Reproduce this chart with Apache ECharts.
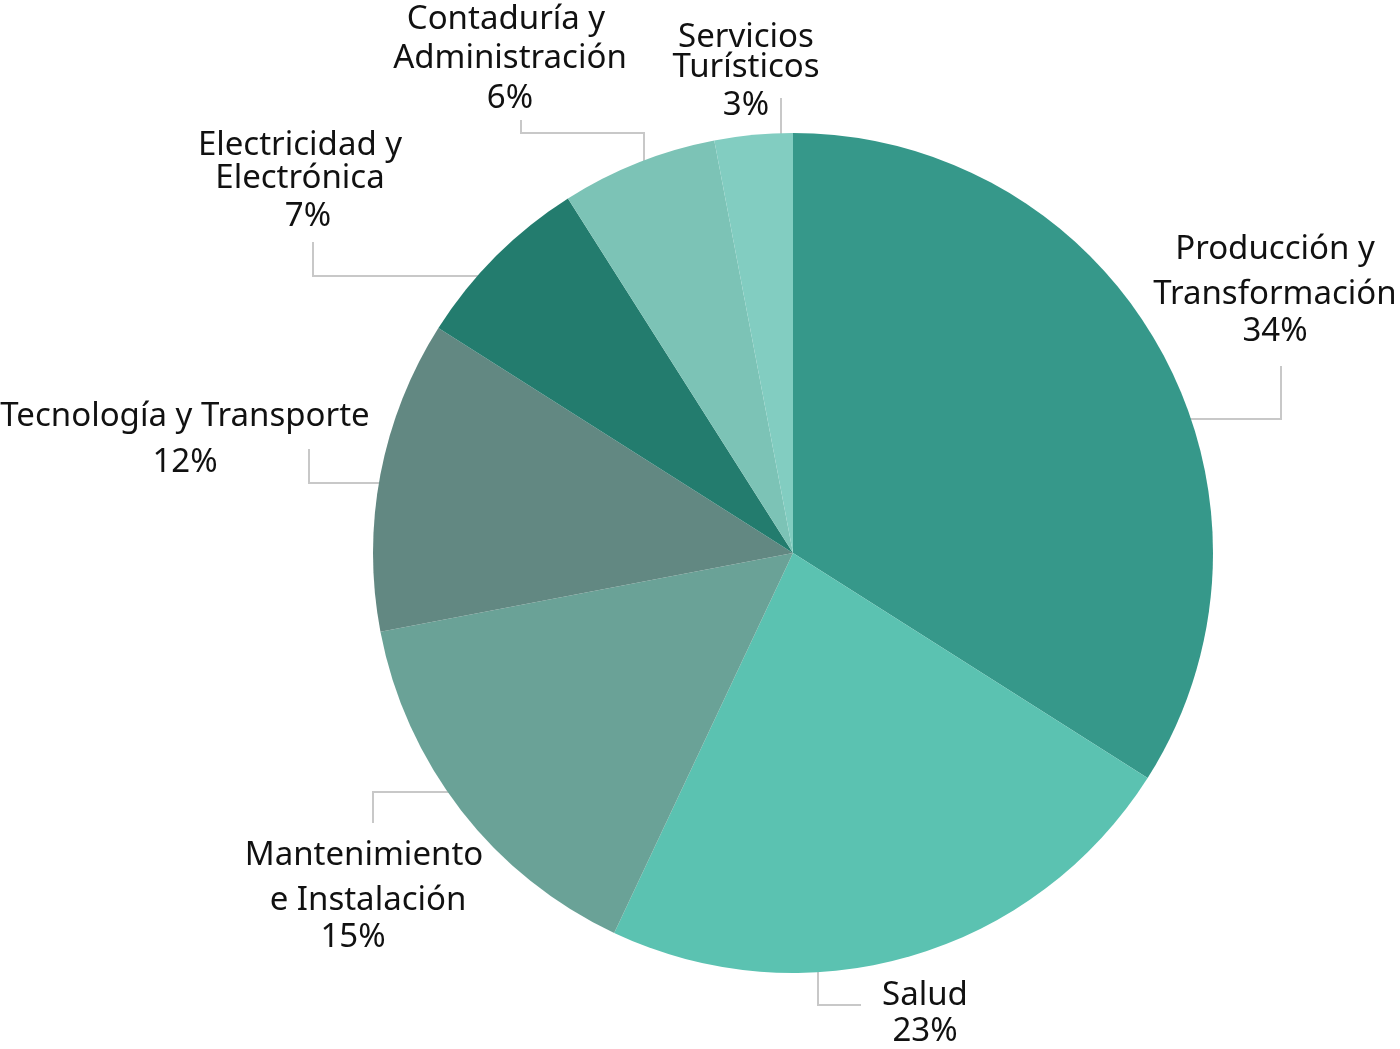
<!DOCTYPE html>
<html><head><meta charset="utf-8">
<script src="https://cdn.jsdelivr.net/npm/echarts@6/dist/echarts.min.js"></script>
<style>html,body{margin:0;padding:0;background:#fff}#c{width:1400px;height:1049px}</style>
</head><body><div id="c"></div>
<script>
// Data
const categories = ['Producción y\nTransformación', 'Salud', 'Mantenimiento\ne Instalación', 'Tecnología y Transporte', 'Electricidad y\nElectrónica', 'Contaduría y\nAdministración', 'Servicios\nTurísticos'];
const values = [34, 23, 15, 12, 7, 6, 3];
const colors = ['#36988a', '#5bc2b1', '#6aa297', '#628882', '#237c6e', '#7cc3b6', '#82cdc1'];

// Label layout (styling only)
const FS = 33;
const labelPos = [
  {x: 1275, y: 225, lh: [50, 40, 34], sh: [0, 0, 0]},
  {x: 925, y: 978, lh: [36, 36], sh: [0, 0]},
  {x: 364, y: 831, lh: [50, 40, 34], sh: [0, 4, -11]},
  {x: 185, y: 394, lh: [46, 46], sh: [0, 0]},
  {x: 300, y: 131, lh: [30, 36, 40], sh: [0, 0, 8]},
  {x: 510, y: 1, lh: [38, 40, 40], sh: [-4, 0, 0]},
  {x: 746, y: 25, lh: [26, 34, 42], sh: [0, 0, 0]}
];
const linePts = [
  [[1173,419],[1281,419],[1281,366]],
  [[818,947],[818,1005],[861,1005]],
  [[473,792],[373,792],[373,823]],
  [[398,483],[309,483],[309,449]],
  [[495,276],[313,276],[313,242]],
  [[644,187],[644,133],[521,133],[521,120]],
  [[781,145],[781,122],[781,98]]
];

const data = categories.map((name, i) => {
  const lines = name.split('\n');
  const keys = ['a', 'b', 'c'];
  let parts = lines.map((l, k) => '{' + keys[k] + '|' + l + '}');
  parts.push('{' + keys[lines.length] + '|' + values[i] + '%}');
  const rich = {};
  labelPos[i].lh.forEach((h, k) => {
    const s = labelPos[i].sh[k];
    rich[keys[k]] = {lineHeight: h, fontSize: FS, fontFamily: 'Noto Sans', color: '#111', align: 'center',
      padding: s > 0 ? [0, 0, 0, 2 * s] : (s < 0 ? [0, -2 * s, 0, 0] : 0)};
  });
  return {
    name, value: values[i],
    itemStyle: {color: colors[i]},
    label: {formatter: parts.join('\n'), rich}
  };
});

const chart = echarts.init(document.getElementById('c'), null, {renderer: 'canvas'});
chart.setOption({
  animation: false,
  series: [{
    type: 'pie',
    center: [793, 553],
    radius: 420,
    startAngle: 90,
    clockwise: true,
    data,
    label: {show: true, position: 'outside', fontSize: FS, fontFamily: 'Noto Sans', color: '#111', align: 'center', overflow: 'none', width: 600},
    labelLine: {show: true, lineStyle: {color: '#c8c8c8', width: 2}, smooth: false},
    labelLayout: function (p) {
      const i = p.dataIndex;
      return {
        x: labelPos[i].x,
        y: labelPos[i].y,
        align: 'center',
        verticalAlign: 'top',
        width: 600,
        labelLinePoints: linePts[i]
      };
    },
    emphasis: {disabled: true}
  }]
});
</script></body></html>
